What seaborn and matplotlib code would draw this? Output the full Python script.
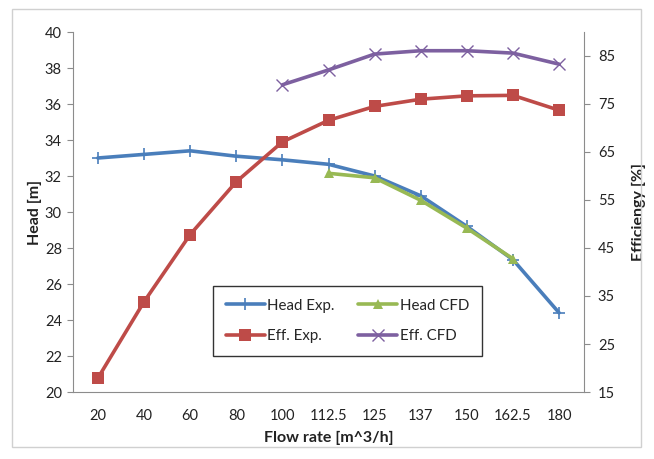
import matplotlib
matplotlib.use("Agg")
import matplotlib.pyplot as plt
import seaborn as sns
import pandas as pd
import numpy as np
from matplotlib.patches import Rectangle

flow_labels = ["20", "40", "60", "80", "100", "112.5", "125", "137", "150", "162.5", "180"]
head_exp = [33.0, 33.2, 33.4, 33.1, 32.9, 32.65, 32.0, 30.9, 29.2, 27.35, 24.4]
head_cfd = [np.nan, np.nan, np.nan, np.nan, np.nan, 32.15, 31.9, 30.65, 29.1, 27.4, np.nan]
eff_exp = [17.9, 33.8, 47.8, 58.8, 67.1, 71.6, 74.5, 76.0, 76.7, 76.8, 73.7]
eff_cfd = [np.nan, np.nan, np.nan, np.nan, 79.0, 82.1, 85.4, 86.1, 86.1, 85.6, 83.3]

sns.set_style("white")
plt.rcParams['font.family'] = ['Lato', 'DejaVu Sans']

pos = np.arange(len(flow_labels))
df = pd.DataFrame({"pos": pos, "head_exp": head_exp, "head_cfd": head_cfd,
                   "eff_exp": eff_exp, "eff_cfd": eff_cfd})

c_blue = "#4a7ebb"
c_red = "#be4b48"
c_green = "#98b954"
c_purple = "#7d60a0"

fig = plt.figure(figsize=(6.54, 4.59), dpi=100)
ax = fig.add_axes([73/654, 67/459, 511/654, 360/459])
ax2 = ax.twinx()

lw = 2.6
sns.lineplot(data=df, x="pos", y="head_exp", ax=ax, color=c_blue, lw=lw, marker="+",
             markersize=9, markeredgewidth=1.2, markeredgecolor=c_blue, label="Head Exp.", legend=False)
sns.lineplot(data=df.dropna(subset=["head_cfd"]), x="pos", y="head_cfd", ax=ax, color=c_green, lw=lw,
             marker="^", markersize=7, markeredgewidth=0, label="Head CFD", legend=False)
sns.lineplot(data=df, x="pos", y="eff_exp", ax=ax2, color=c_red, lw=lw, marker="s",
             markersize=9, markeredgewidth=0, label="Eff. Exp.", legend=False)
sns.lineplot(data=df.dropna(subset=["eff_cfd"]), x="pos", y="eff_cfd", ax=ax2, color=c_purple, lw=lw,
             marker="x", markersize=8, markeredgewidth=1.0, markeredgecolor=c_purple, label="Eff. CFD", legend=False)

ax.set_xlim(-0.54, 10.54)
ax.set_ylim(20, 40)
ax.set_yticks(np.arange(20, 41, 2))
ax.set_xticks(pos)
ax.set_xticklabels(flow_labels)
ax2.set_ylim(15, 90)
ax2.set_yticks(np.arange(15, 86, 10))

gray = "#8c8c8c"
for a in (ax, ax2):
    for s in a.spines.values():
        s.set_visible(False)
    a.tick_params(colors=gray, labelcolor="#222222", labelsize=10.5, length=4, width=0.8)
ax.spines["left"].set_visible(True)
ax.spines["left"].set_color(gray)
ax.spines["bottom"].set_visible(True)
ax.spines["bottom"].set_color(gray)
ax2.spines["right"].set_visible(True)
ax2.spines["right"].set_color(gray)
ax.tick_params(axis="x", direction="inout", length=6, pad=9)
ax.tick_params(axis="y", direction="out", pad=4)
ax2.tick_params(axis="y", direction="out", pad=6)

ax.set_xlabel("Flow rate [m^3/h]", fontsize=11.5, fontweight="bold", color="#222222", labelpad=6)
ax.set_ylabel("Head [m]", fontsize=11.5, fontweight="bold", color="#222222", labelpad=2)
ax2.set_ylabel("Efficiengy [%]", fontsize=11.5, fontweight="bold", color="#222222", labelpad=12)

h1, l1 = ax.get_legend_handles_labels()
h2, l2 = ax2.get_legend_handles_labels()
handles = [h1[0], h2[0], h1[1], h2[1]]
labels = [l1[0], l2[0], l1[1], l2[1]]
leg = ax2.legend(handles, labels, ncol=2, loc="upper left",
                 bbox_to_anchor=((213-73)/511, (392-286)/360), borderaxespad=0, fontsize=10.8,
                 frameon=True, fancybox=False, edgecolor="black", handlelength=2.6,
                 handletextpad=0.15, columnspacing=1.6, borderpad=0.85, labelspacing=1.1)
leg.get_frame().set_linewidth(1.0)

fig.patches.append(Rectangle((12/654, 12/459), 629/654, 438/459, transform=fig.transFigure,
                             fill=False, edgecolor="#d0d0d0", linewidth=1.0))

fig.savefig("out.png", dpi=100)
